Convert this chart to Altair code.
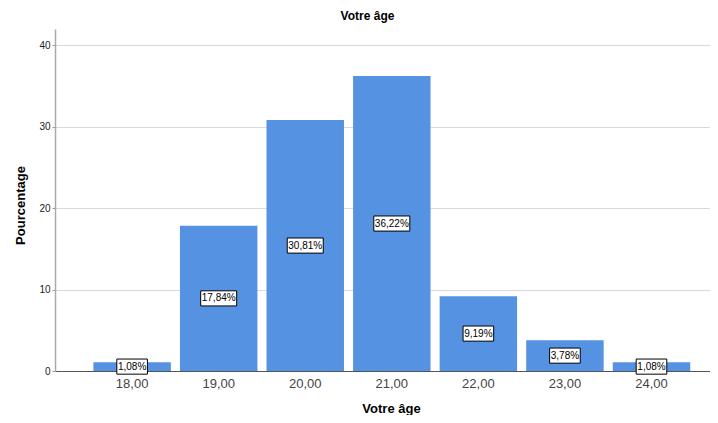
import altair as alt
import pandas as pd

ages = ["18,00", "19,00", "20,00", "21,00", "22,00", "23,00", "24,00"]
pcts = [1.08, 17.84, 30.81, 36.22, 9.19, 3.78, 1.08]
labels = [f"{v:.2f}".replace(".", ",") + "%" for v in pcts]

df = pd.DataFrame({
    "age": ages,
    "pct": pcts,
    "half": [v / 2 for v in pcts],
    "label": labels,
    "nchar": [len(s) for s in labels],
})

FONT = "Liberation Sans"
BAR = "#5592E2"

xscale = alt.Scale(paddingInner=0.105, paddingOuter=0.336, align=0.66)
yscale = alt.Scale(domain=[0, 42], nice=False)

x = alt.X("age:N", sort=None, scale=xscale,
          axis=alt.Axis(title="Votre âge", labelAngle=0, ticks=False,
                        labelFontSize=13, labelColor="#444444", labelPadding=6,
                        domainColor="#555555", domainWidth=1,
                        titleFontSize=13, titleFontWeight="bold",
                        titleX=336, titleY=31, titleBaseline="top", titleAlign="center",
                        titleColor="#000000", grid=False))

bars = alt.Chart(df).mark_bar(color=BAR).encode(
    x=x,
    y=alt.Y("pct:Q", scale=yscale,
            axis=alt.Axis(title="Pourcentage", values=[0, 10, 20, 30, 40],
                          grid=True, gridColor="#D9D9D9", gridWidth=1,
                          tickSize=3, tickColor="#999999", labelPadding=2,
                          labelFontSize=10, labelColor="#222222",
                          domainColor="#AAAAAA", domainWidth=1.5,
                          titleFontSize=13, titleFontWeight="bold",
                          titleY=176,
                          titleColor="#000000", titlePadding=11)),
)

path6 = "M-1,-0.42 L1,-0.42 L1,0.42 L-1,0.42 Z"
path5 = "M-0.85,-0.42 L0.85,-0.42 L0.85,0.42 L-0.85,0.42 Z"

boxes = alt.Chart(df).mark_point(filled=True, fill="white", stroke="black",
                                 strokeWidth=1, opacity=1, size=1296).encode(
    x=alt.X("age:N", sort=None, scale=xscale),
    y=alt.Y("half:Q", scale=yscale),
    shape=alt.Shape("nchar:N", scale=alt.Scale(domain=[5, 6], range=[path5, path6]),
                    legend=None),
)

texts = alt.Chart(df).mark_text(font=FONT, fontSize=10, color="black").encode(
    x=alt.X("age:N", sort=None, scale=xscale),
    y=alt.Y("half:Q", scale=yscale),
    text="label:N",
)

chart = alt.layer(bars, boxes, texts).properties(
    width=655, height=342,
    title=alt.TitleParams("Votre âge", fontSize=12, fontWeight="bold", font=FONT,
                          color="#000000", anchor="middle", dx=-15, offset=6),
    autosize=alt.AutoSizeParams(type="none"),
    padding={"left": 47, "top": 21, "right": 0, "bottom": 44},
).configure(font=FONT).configure_view(stroke=None).configure_axis(
    labelFont=FONT, titleFont=FONT
)

chart.save("out.html", embed_options={"renderer": "svg", "actions": False})
